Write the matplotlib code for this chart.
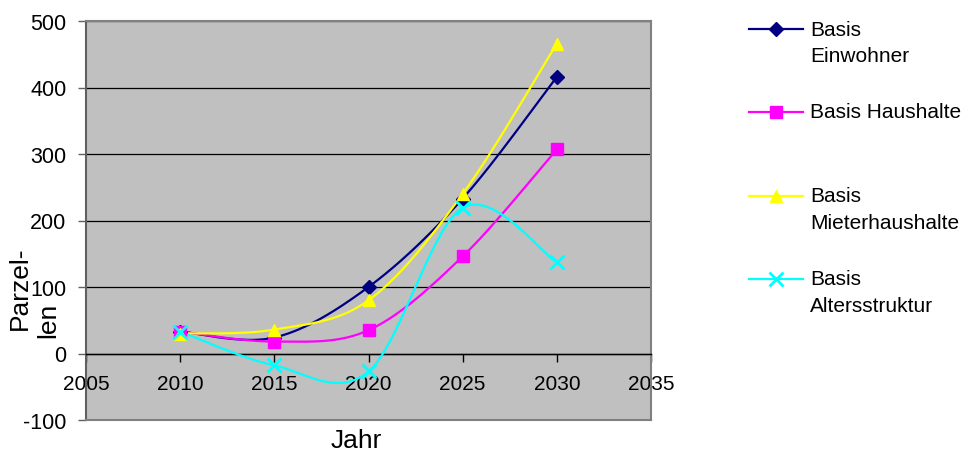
import numpy as np
import matplotlib
matplotlib.use('Agg')
import matplotlib.pyplot as plt

plt.rcParams['font.family'] = ['Liberation Sans', 'DejaVu Sans']
plt.rcParams['axes.unicode_minus'] = False

years = [2010, 2015, 2020, 2025, 2030]
einwohner = [33, 24, 100, 233, 416]
haushalte = [33, 18, 35, 146, 307]
mieterhaushalte = [30, 36, 80, 240, 466]
altersstruktur = [33, -18, -27, 219, 137]

series_names = ['Basis\nEinwohner', 'Basis Haushalte', 'Basis\nMieterhaushalte', 'Basis\nAltersstruktur']
series_values = [einwohner, haushalte, mieterhaushalte, altersstruktur]
series_colors = ['#000080', '#FF00FF', '#FFFF00', '#00FFFF']
series_markers = ['D', 's', '^', 'x']
marker_sizes = [7, 8, 9, 10]


def smooth(x, y, n=40):
    # Catmull-Rom style bezier through the points (like Excel's smoothed lines)
    p = np.column_stack([x, y]).astype(float)
    p = np.vstack([p[0], p, p[-1]])
    out = []
    for i in range(1, len(p) - 2):
        p0, p1, p2, p3 = p[i - 1], p[i], p[i + 1], p[i + 2]
        c1 = p1 + (p2 - p0) / 6
        c2 = p2 - (p3 - p1) / 6
        t = np.linspace(0, 1, n)[:, None]
        seg = (1 - t)**3 * p1 + 3 * (1 - t)**2 * t * c1 + 3 * (1 - t) * t**2 * c2 + t**3 * p2
        out.append(seg if i == 1 else seg[1:])
    out = np.vstack(out)
    return out[:, 0], out[:, 1]


fig = plt.figure(figsize=(9.78, 4.52), dpi=100)
ax = fig.add_axes([86/978, 31/452, 565/978, 399/452])
ax.set_facecolor('#C0C0C0')

for vals, col, mk, ms in zip(series_values, series_colors, series_markers, marker_sizes):
    sx, sy = smooth(years, vals)
    ax.plot(sx, sy, color=col, lw=1.6, zorder=3)
    ax.plot(years, vals, ls='none', marker=mk, color=col, ms=ms, mew=2 if mk == 'x' else 1, zorder=4)

ax.set_xlim(2005, 2035)
ax.set_ylim(-100, 500)
ax.set_xticks(range(2005, 2036, 5))
ax.set_yticks(range(-100, 501, 100))
ax.yaxis.grid(True, color='black', lw=0.9)
ax.set_axisbelow(True)

for s in ['left', 'top', 'right']:
    ax.spines[s].set_color('#808080')
    ax.spines[s].set_linewidth(1.5)
ax.spines['left'].set_color('#606060')
ax.spines['bottom'].set_position(('data', 0))
ax.spines['bottom'].set_color('black')
ax.spines['bottom'].set_linewidth(1)
ax.plot([0, 1], [0, 0], transform=ax.transAxes, color='#808080', lw=1.5, clip_on=False, zorder=5)

ax.tick_params(axis='x', direction='out', length=6, width=1, pad=9, labelsize=15)
ax.tick_params(axis='y', direction='out', length=6, width=1, color='#606060', pad=8, labelsize=15.5)

# y title as two pieces, second one kept clear of the 100 tick label
fig.text(8/978, (452-330)/452, 'Parzel-', rotation=90, ha='left', va='bottom', fontsize=19)
fig.text(36/978, (452-338)/452, 'len', rotation=90, ha='left', va='bottom', fontsize=19)
fig.text(356/978, 11/452, 'Jahr', ha='center', va='center', fontsize=19)

# legend drawn by hand so the marker sits on the first text line
leg = fig.add_axes([0, 0, 1, 1], facecolor='none')
leg.set_xlim(0, 978)
leg.set_ylim(452, 0)
leg.axis('off')
rows = [30, 113, 197, 280]
for name, col, mk, ms, yrow in zip(series_names, series_colors, series_markers, marker_sizes, rows):
    leg.plot([749, 803], [yrow, yrow], color=col, lw=1.6)
    leg.plot([776], [yrow], marker=mk, color=col, ms=ms, mew=2 if mk == 'x' else 1)
    for k, line in enumerate(name.split('\n')):
        leg.text(810, yrow + k * 27, line, ha='left', va='center', fontsize=15)

fig.savefig('out.png', dpi=100)
